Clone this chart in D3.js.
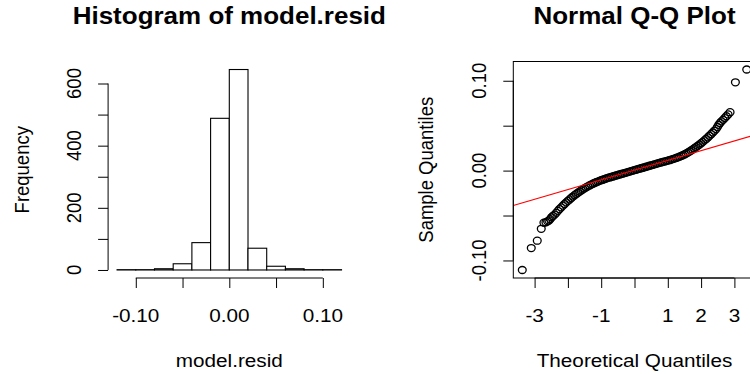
<!DOCTYPE html>
<html>
<head>
<meta charset="utf-8">
<script src="https://cdn.jsdelivr.net/npm/d3@7"></script>
<style>
body { margin: 0; background: #fff; }
svg { display: block; }
text { font-family: "Liberation Sans", Arial, Helvetica, sans-serif; fill: #000; }
</style>
</head>
<body>
<script>

/* Data */

// histogram of the residuals
var histBreaks = [-0.12, -0.10, -0.08, -0.06, -0.04, -0.02, 0.00, 0.02, 0.04, 0.06, 0.08, 0.10, 0.12];
var histCounts = [1, 1, 4, 20, 88, 488, 645, 70, 12, 4, 1, 1];
var histXTicks = [-0.10, -0.05, 0.00, 0.05, 0.10];
var histXLabels = [-0.10, 0.00, 0.10];
var histYTicks = [0, 100, 200, 300, 400, 500, 600];
var histYLabels = [0, 200, 400, 600];

// normal Q-Q: [theoretical quantile, sample quantile]
var qqPoints = [
	[-3.37, -0.1106], [-3.10, -0.0862], [-2.92, -0.0780], [-2.80, -0.0648], [-2.72, -0.0580],
	[-2.66, -0.0575], [-2.61, -0.0565], [-2.57, -0.0555], [-2.53, -0.0540], [-2.49, -0.0520],
	[-2.45, -0.0505], [-2.40, -0.0490], [-2.35, -0.0470], [-2.30, -0.0448], [-2.25, -0.0428],
	[-2.20, -0.0409], [-2.15, -0.0390], [-2.10, -0.0372], [-2.05, -0.0354], [-2.00, -0.0337],
	[-1.95, -0.0321], [-1.90, -0.0304], [-1.85, -0.0289], [-1.80, -0.0274], [-1.75, -0.0260],
	[-1.70, -0.0247], [-1.65, -0.0233], [-1.60, -0.0221], [-1.55, -0.0208], [-1.50, -0.0197],
	[-1.45, -0.0186], [-1.40, -0.0175], [-1.35, -0.0165], [-1.30, -0.0155], [-1.25, -0.0146],
	[-1.20, -0.0138], [-1.15, -0.0129], [-1.10, -0.0122], [-1.05, -0.0114], [-1.00, -0.0107],
	[-0.95, -0.0101], [-0.90, -0.0094], [-0.85, -0.0088], [-0.80, -0.0081], [-0.75, -0.0076],
	[-0.70, -0.0071], [-0.65, -0.0065], [-0.60, -0.0060], [-0.55, -0.0054], [-0.50, -0.0049],
	[-0.45, -0.0043], [-0.40, -0.0038], [-0.35, -0.0033], [-0.30, -0.0027], [-0.25, -0.0022],
	[-0.20, -0.0017], [-0.15, -0.0011], [-0.10, -0.0006], [-0.05, 0.0000], [0.00, 0.0005],
	[0.05, 0.0010], [0.10, 0.0016], [0.15, 0.0021], [0.20, 0.0027], [0.25, 0.0032],
	[0.30, 0.0037], [0.35, 0.0043], [0.40, 0.0048], [0.45, 0.0054], [0.50, 0.0059],
	[0.55, 0.0064], [0.60, 0.0070], [0.65, 0.0075], [0.70, 0.0081], [0.75, 0.0086],
	[0.80, 0.0091], [0.85, 0.0097], [0.90, 0.0101], [0.95, 0.0106], [1.00, 0.0111],
	[1.05, 0.0116], [1.10, 0.0122], [1.15, 0.0128], [1.20, 0.0134], [1.25, 0.0141],
	[1.30, 0.0148], [1.35, 0.0155], [1.40, 0.0163], [1.45, 0.0171], [1.50, 0.0180],
	[1.55, 0.0190], [1.60, 0.0201], [1.65, 0.0212], [1.70, 0.0224], [1.75, 0.0236],
	[1.80, 0.0249], [1.85, 0.0262], [1.90, 0.0276], [1.95, 0.0290], [2.00, 0.0305],
	[2.05, 0.0320], [2.10, 0.0336], [2.15, 0.0352], [2.20, 0.0369], [2.25, 0.0387],
	[2.30, 0.0405], [2.35, 0.0424], [2.40, 0.0443], [2.45, 0.0462], [2.49, 0.0485],
	[2.53, 0.0510], [2.57, 0.0530], [2.61, 0.0548], [2.66, 0.0565], [2.71, 0.0585],
	[2.76, 0.0605], [2.81, 0.0625], [2.87, 0.0650], [3.03, 0.0983], [3.37, 0.1125]
];
// qqline passes through the sample quartiles at the normal quartiles
var qqLineProbZ = [-0.6745, 0.6745];
var qqLineQuartiles = [-0.0068, 0.0078];
var qqXTicks = [-3, -2, -1, 0, 1, 2, 3];
var qqXLabels = [-3, -1, 1, 2, 3];
var qqYTicks = [-0.10, -0.05, 0.00, 0.05, 0.10];
var qqYLabels = [-0.10, 0.00, 0.10];


/* Layout */

var width = 750;
var height = 374;
var SX = 1.12;          // the picture is a bit wider than it is tall
var fontSize = 18.5;
var titleSize = 23.2;
var tickLen = 10;
var plotTop = 61.5, plotBottom = 278;

var svg = d3.select("body").append("svg")
	.attr("width", width)
	.attr("height", height);

// R pads axis ranges by 4% on each side
function rExtend(r) {
	var d = (r[1] - r[0]) * 0.04;
	return [r[0] - d, r[1] + d];
}

function label(x, y, txt, size, bold, rotated) {
	var t = "translate(" + x + "," + y + ") scale(" + SX + ",1)" + (rotated ? " rotate(-90)" : "");
	svg.append("text")
		.attr("transform", t)
		.attr("text-anchor", "middle")
		.style("font-size", size + "px")
		.style("font-weight", bold ? "bold" : "normal")
		.text(txt);
}

function bottomAxis(scale, ticks, labels, fmt) {
	var g = svg.append("g")
		.attr("transform", "translate(0," + plotBottom + ")")
		.call(d3.axisBottom(scale).tickValues(ticks).tickSize(tickLen).tickSizeOuter(0).tickFormat(""));
	g.select(".domain").remove();
	g.selectAll("line").attr("stroke", "#000");
	g.append("line")
		.attr("x1", scale(ticks[0])).attr("x2", scale(ticks[ticks.length - 1]))
		.attr("stroke", "#000");
	for (let v of labels) {
		label(scale(v), 321.5, fmt(v), fontSize, false, false);
	}
}

function leftAxis(scale, x0, ticks, labels, fmt) {
	var g = svg.append("g")
		.attr("transform", "translate(" + x0 + ",0)")
		.call(d3.axisLeft(scale).tickValues(ticks).tickSize(tickLen).tickSizeOuter(0).tickFormat(""));
	g.select(".domain").remove();
	g.selectAll("line").attr("stroke", "#000");
	g.append("line")
		.attr("y1", scale(ticks[0])).attr("y2", scale(ticks[ticks.length - 1]))
		.attr("stroke", "#000");
	for (let v of labels) {
		label(x0 - 27, scale(v), fmt(v), fontSize, false, true);
	}
}

var fmt2 = d3.format(".2f");
function fmtSigned(v) { return fmt2(v).replace("\u2212", "-"); }


/* Histogram */

var hx = d3.scaleLinear()
	.domain(rExtend([histBreaks[0], histBreaks[histBreaks.length - 1]]))
	.range([108.1, 350.5]);
var hy = d3.scaleLinear()
	.domain(rExtend([0, d3.max(histCounts)]))
	.range([plotBottom, plotTop]);

svg.append("g")
	.selectAll("rect")
	.data(histCounts)
	.enter().append("rect")
		.attr("x", function(d, i) { return hx(histBreaks[i]); })
		.attr("width", function(d, i) { return hx(histBreaks[i + 1]) - hx(histBreaks[i]); })
		.attr("y", function(d) { return hy(d); })
		.attr("height", function(d) { return hy(0) - hy(d); })
		.attr("fill", "#fff")
		.attr("stroke", "#000")
		.attr("stroke-width", 1.1);

bottomAxis(hx, histXTicks, histXLabels, fmtSigned);
leftAxis(hy, hx.range()[0], histYTicks, histYLabels, function(v) { return String(v); });

label((hx.range()[0] + hx.range()[1]) / 2, 24.3, "Histogram of model.resid", titleSize, true, false);
label((hx.range()[0] + hx.range()[1]) / 2, 366.5, "model.resid", fontSize, false, false);
label(28.5, (plotTop + plotBottom) / 2, "Frequency", fontSize, false, true);


/* Normal Q-Q plot */

var qx = d3.scaleLinear()
	.domain(rExtend(d3.extent(qqPoints, function(d) { return d[0]; })))
	.range([513.3, 513.3 + 242.4]);
var qy = d3.scaleLinear()
	.domain(rExtend(d3.extent(qqPoints, function(d) { return d[1]; })))
	.range([plotBottom, plotTop]);

svg.append("clipPath")
	.attr("id", "qqclip")
	.append("rect")
		.attr("x", qx.range()[0]).attr("y", plotTop)
		.attr("width", qx.range()[1] - qx.range()[0]).attr("height", plotBottom - plotTop);

svg.append("g")
	.selectAll("ellipse")
	.data(qqPoints)
	.enter().append("ellipse")
		.attr("cx", function(d) { return qx(d[0]); })
		.attr("cy", function(d) { return qy(d[1]); })
		.attr("rx", 3.9)
		.attr("ry", 3.5)
		.attr("fill", "none")
		.attr("stroke", "#000")
		.attr("stroke-width", 1.3);

var slope = (qqLineQuartiles[1] - qqLineQuartiles[0]) / (qqLineProbZ[1] - qqLineProbZ[0]);
var intercept = qqLineQuartiles[0] - slope * qqLineProbZ[0];
var xd = qx.domain();
svg.append("line")
	.attr("clip-path", "url(#qqclip)")
	.attr("x1", qx(xd[0])).attr("y1", qy(intercept + slope * xd[0]))
	.attr("x2", qx(xd[1])).attr("y2", qy(intercept + slope * xd[1]))
	.attr("stroke", "red")
	.attr("stroke-width", 1.1);

svg.append("rect")
	.attr("x", qx.range()[0]).attr("y", plotTop)
	.attr("width", qx.range()[1] - qx.range()[0]).attr("height", plotBottom - plotTop)
	.attr("fill", "none")
	.attr("stroke", "#000");

bottomAxis(qx, qqXTicks, qqXLabels, function(v) { return String(v); });
leftAxis(qy, qx.range()[0], qqYTicks, qqYLabels, fmtSigned);

label((qx.range()[0] + qx.range()[1]) / 2, 24.3, "Normal Q-Q Plot", titleSize, true, false);
label((qx.range()[0] + qx.range()[1]) / 2, 366.5, "Theoretical Quantiles", fontSize, false, false);
label(433, (plotTop + plotBottom) / 2, "Sample Quantiles", fontSize, false, true);

</script>
</body>
</html>
